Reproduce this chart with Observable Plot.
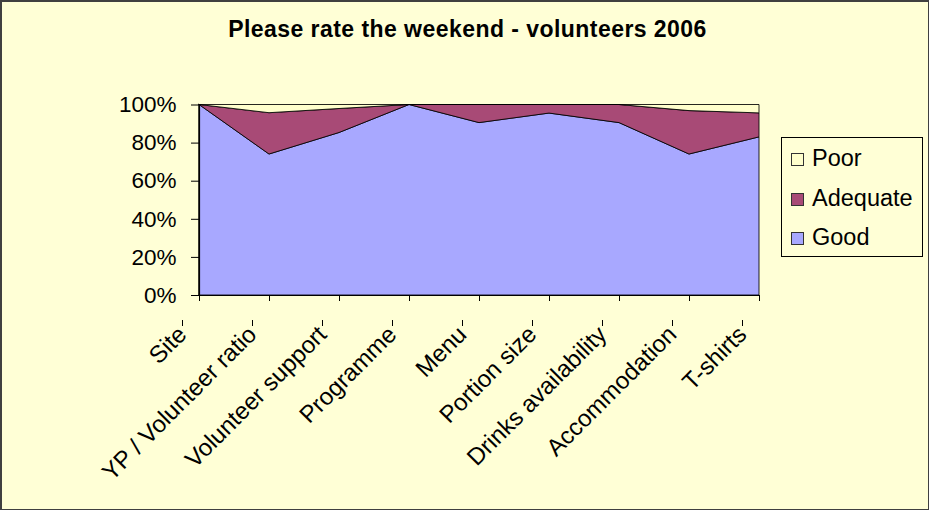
<!DOCTYPE html>
<html>
<head>
<meta charset="utf-8">
<script src="https://cdn.jsdelivr.net/npm/d3@7"></script>
<script src="https://cdn.jsdelivr.net/npm/@observablehq/plot@0.6"></script>
<style>
  html, body { margin: 0; padding: 0; background: #FFFFD6; }
  #frame { position: relative; width: 929px; height: 510px; background: #FFFFD6; overflow: hidden;
           font-family: "Liberation Sans", Arial, sans-serif; }
  #border { position: absolute; left: 0; top: 0; width: 929px; height: 510px; box-sizing: border-box;
            border: 1px solid #404040; border-left-width: 2px; border-top-width: 2px; pointer-events: none; }
  #chart { position: absolute; left: 0; top: 0; }
  #title { position: absolute; left: 0; width: 935px; top: 18px; text-align: center;
           font-weight: bold; font-size: 23px; line-height: 23px; letter-spacing: 0.45px; color: #000; }
  #legend { position: absolute; left: 781px; top: 137px; width: 142px; height: 120px; box-sizing: border-box;
            border: 1px solid #000; }
  .item { position: absolute; left: 9px; height: 24px; line-height: 24px; font-size: 23.5px; color: #000; white-space: nowrap; }
  .sw { display: inline-block; width: 11px; height: 11px; border: 1px solid #333; margin-right: 8px; vertical-align: 0px; }
</style>
</head>
<body>
<div id="frame">
  <div id="chart"></div>
  <div id="title">Please rate the weekend - volunteers 2006</div>
  <div id="legend"></div>
  <div id="border"></div>
</div>
<script>
const categories = ["Site", "YP / Volunteer ratio", "Volunteer support", "Programme", "Menu",
                    "Portion size", "Drinks availability", "Accommodation", "T-shirts"];
const good     = [100, 74.0, 85.3, 100, 90.5, 95.5, 90.5, 74.0, 83.0];
const adequate = [0,   21.7, 12.6, 0,   9.5,  4.5,  9.5,  22.8, 12.6];
const poor     = [0,   4.3,  2.1,  0,   0,    0,    0,    3.2,  4.4];
const seriesNames = ["Good", "Adequate", "Poor"];
const seriesColors = ["#A8A8FF", "#A84A76", "#FFFFCC"];
const yTicks = [0, 20, 40, 60, 80, 100];

const rows = [];
categories.forEach((c, i) => {
  rows.push({cat: c, series: "Good", value: good[i]});
  rows.push({cat: c, series: "Adequate", value: adequate[i]});
  rows.push({cat: c, series: "Poor", value: poor[i]});
});

const chart = Plot.plot({
  width: 929,
  height: 510,
  marginLeft: 199,
  marginRight: 170,
  marginTop: 104.5,
  marginBottom: 215,
  style: {background: "transparent", fontFamily: "'Liberation Sans', Arial, sans-serif", fontSize: "22px", color: "#000"},
  x: {type: "point", domain: categories, padding: 0},
  y: {domain: [0, 100]},
  color: {domain: seriesNames, range: seriesColors},
  marks: [
    Plot.areaY(rows, {x: "cat", y: "value", fill: "series", z: "series", order: seriesNames,
                      stroke: "#000", strokeWidth: 1, strokeOpacity: 0.85}),
    Plot.axisX({tickRotate: -45, tickSize: 6, tickPadding: 4, label: null, fontSize: 24,
                textStroke: "none", dx: -17, dy: 25}),
    Plot.axisX({ticks: categories, tickSize: 6, text: null, label: null}),
    Plot.axisY({ticks: yTicks, tickFormat: d => d + "%", label: null, tickSize: 8, tickPadding: 15, fontSize: 22.5}),
    Plot.ruleY([0], {stroke: "#000", strokeWidth: 1.2}),
    Plot.ruleX([categories[0]], {stroke: "#000", strokeWidth: 1.2})
  ]
});
document.getElementById("chart").appendChild(chart);

const legend = document.getElementById("legend");
const order = ["Poor", "Adequate", "Good"];
order.forEach((name, k) => {
  const div = document.createElement("div");
  div.className = "item";
  div.style.top = (8 + k * 39.5) + "px";
  const sw = document.createElement("span");
  sw.className = "sw";
  sw.style.background = seriesColors[seriesNames.indexOf(name)];
  div.appendChild(sw);
  div.appendChild(document.createTextNode(name));
  legend.appendChild(div);
});
</script>
</body>
</html>
